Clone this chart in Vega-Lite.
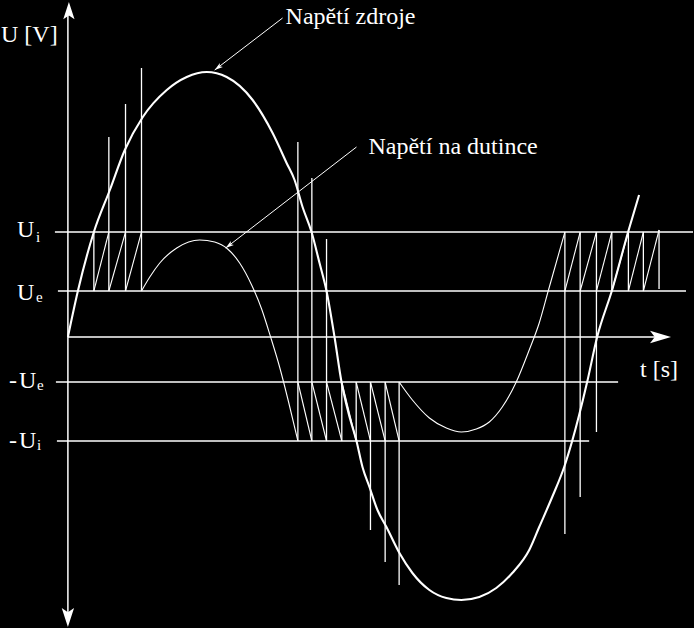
{
  "$schema": "https://vega.github.io/schema/vega-lite/v6.json",
  "width": 694,
  "height": 628,
  "autosize": {"type": "fit", "contains": "padding"},
  "padding": 0,
  "background": "#000000",
  "config": {"view": {"stroke": null}},
  "datasets": {
    "levels": [
      {"t": 55, "t2": 694, "U": 105},
      {"t": 58, "t2": 687, "U": 46},
      {"t": 68, "t2": 662, "U": 0},
      {"t": 56, "t2": 619, "U": -45},
      {"t": 57, "t2": 590, "U": -104}
    ],
    "vaxis": [{"t": 68, "U": 328, "U2": -282}],
    "verticals": [
      {"t": 94, "U": 105, "U2": 46},
      {"t": 109, "U": 200, "U2": 46},
      {"t": 125.7, "U": 233, "U2": 46},
      {"t": 141.7, "U": 269, "U2": 46},
      {"t": 298.3, "U": 195, "U2": -104},
      {"t": 312.3, "U": 159, "U2": -104},
      {"t": 327, "U": 98, "U2": -104},
      {"t": 342.3, "U": -45, "U2": -104},
      {"t": 356.7, "U": -45, "U2": -104},
      {"t": 371, "U": -45, "U2": -193},
      {"t": 385.7, "U": -45, "U2": -225},
      {"t": 399.7, "U": -45, "U2": -248},
      {"t": 565.7, "U": 105, "U2": -197},
      {"t": 581, "U": 105, "U2": -160},
      {"t": 597.3, "U": 105, "U2": -95},
      {"t": 612.7, "U": 105, "U2": 46},
      {"t": 629.3, "U": 105, "U2": 46},
      {"t": 644.3, "U": 105, "U2": 46},
      {"t": 660, "U": 107, "U2": 48}
    ],
    "ramps": [
      {"t": 94, "U": 46, "t2": 109, "U2": 105},
      {"t": 109, "U": 46, "t2": 125.7, "U2": 105},
      {"t": 125.7, "U": 46, "t2": 141.7, "U2": 105},
      {"t": 298.3, "U": -45, "t2": 312.3, "U2": -104},
      {"t": 312.3, "U": -45, "t2": 327, "U2": -104},
      {"t": 327, "U": -45, "t2": 342.3, "U2": -104},
      {"t": 342.3, "U": -45, "t2": 356.7, "U2": -104},
      {"t": 356.7, "U": -45, "t2": 371, "U2": -104},
      {"t": 371, "U": -45, "t2": 385.7, "U2": -104},
      {"t": 385.7, "U": -45, "t2": 399.7, "U2": -104},
      {"t": 565.7, "U": 46, "t2": 581, "U2": 105},
      {"t": 581, "U": 46, "t2": 597.3, "U2": 105},
      {"t": 597.3, "U": 46, "t2": 612.7, "U2": 105},
      {"t": 612.7, "U": 46, "t2": 629.3, "U2": 105},
      {"t": 629.3, "U": 46, "t2": 644.3, "U2": 105},
      {"t": 644.3, "U": 46, "t2": 660, "U2": 107}
    ],
    "source": [
      {"t": 68, "U": 0}, {"t": 78, "U": 46}, {"t": 94, "U": 105}, {"t": 110, "U": 147},
      {"t": 125, "U": 187}, {"t": 143, "U": 220}, {"t": 167, "U": 247}, {"t": 187, "U": 260},
      {"t": 207, "U": 265}, {"t": 227, "U": 260}, {"t": 253, "U": 237}, {"t": 273, "U": 204},
      {"t": 287, "U": 174}, {"t": 295, "U": 157}, {"t": 303, "U": 130}, {"t": 312, "U": 105},
      {"t": 320, "U": 74}, {"t": 327, "U": 46}, {"t": 335, "U": 0}, {"t": 342, "U": -45},
      {"t": 349, "U": -76}, {"t": 357, "U": -104}, {"t": 363, "U": -130}, {"t": 370, "U": -150},
      {"t": 378, "U": -173}, {"t": 387, "U": -190}, {"t": 400, "U": -216}, {"t": 413, "U": -236},
      {"t": 430, "U": -253}, {"t": 447, "U": -261}, {"t": 462, "U": -263}, {"t": 480, "U": -260},
      {"t": 497, "U": -251}, {"t": 513, "U": -236}, {"t": 530, "U": -213}, {"t": 540, "U": -190},
      {"t": 553, "U": -160}, {"t": 565, "U": -130}, {"t": 573, "U": -104}, {"t": 588, "U": -45},
      {"t": 598, "U": 0}, {"t": 613, "U": 47}, {"t": 629, "U": 105}, {"t": 640, "U": 142}
    ],
    "tube": [
      {"piece": "a", "t": 141.7, "U": 46}, {"piece": "a", "t": 150, "U": 60}, {"piece": "a", "t": 160, "U": 74},
      {"piece": "a", "t": 177, "U": 89}, {"piece": "a", "t": 200, "U": 97}, {"piece": "a", "t": 215, "U": 95},
      {"piece": "a", "t": 228, "U": 88}, {"piece": "a", "t": 240, "U": 74}, {"piece": "a", "t": 252, "U": 52},
      {"piece": "a", "t": 262, "U": 28}, {"piece": "a", "t": 271, "U": 0}, {"piece": "a", "t": 280, "U": -30},
      {"piece": "a", "t": 289, "U": -65}, {"piece": "a", "t": 298.3, "U": -104},
      {"piece": "b", "t": 399.7, "U": -45}, {"piece": "b", "t": 413, "U": -63}, {"piece": "b", "t": 430, "U": -81},
      {"piece": "b", "t": 447, "U": -91}, {"piece": "b", "t": 462, "U": -95}, {"piece": "b", "t": 477, "U": -92},
      {"piece": "b", "t": 490, "U": -85}, {"piece": "b", "t": 503, "U": -70}, {"piece": "b", "t": 517, "U": -45},
      {"piece": "b", "t": 530, "U": -13}, {"piece": "b", "t": 540, "U": 14}, {"piece": "b", "t": 549, "U": 46},
      {"piece": "b", "t": 565.7, "U": 105}
    ],
    "pointers": [
      {"t": 283, "U": 319, "t2": 215, "U2": 267},
      {"t": 357, "U": 190, "t2": 226, "U2": 89}
    ],
    "heads": [
      {"dir": "up", "t": 69, "U": 335},
      {"dir": "down", "t": 68, "U": -290},
      {"dir": "right", "t": 672, "U": 0},
      {"dir": "pointer", "t": 215, "U": 267},
      {"dir": "pointer", "t": 226, "U": 89}
    ],
    "labels": [
      {"t": 1, "U": 295, "text": "U [V]"},
      {"t": 286, "U": 313, "text": "Napětí zdroje"},
      {"t": 369, "U": 183, "text": "Napětí na dutince"},
      {"t": 17, "U": 100, "text": "U"},
      {"t": 17, "U": 37, "text": "U"},
      {"t": 9, "U": -51, "text": "-"},
      {"t": 19, "U": -51, "text": "U"},
      {"t": 9, "U": -111, "text": "-"},
      {"t": 19, "U": -111, "text": "U"},
      {"t": 641, "U": -40, "text": "t [s]"}
    ],
    "subs": [
      {"t": 36, "U": 95, "text": "i"},
      {"t": 36, "U": 35, "text": "e"},
      {"t": 37, "U": -53, "text": "e"},
      {"t": 37, "U": -113, "text": "i"}
    ]
  },
  "encoding": {
    "x": {"field": "t", "type": "quantitative", "scale": {"domain": [0, 694], "nice": false, "zero": false}, "axis": null},
    "y": {"field": "U", "type": "quantitative", "scale": {"domain": [-291, 337], "nice": false, "zero": false}, "axis": null}
  },
  "layer": [
    {"data": {"name": "levels"}, "mark": {"type": "rule", "color": "#ffffff", "strokeWidth": 1.5},
     "encoding": {"x2": {"field": "t2"}}},
    {"data": {"name": "vaxis"}, "mark": {"type": "rule", "color": "#ffffff", "strokeWidth": 1.5},
     "encoding": {"y2": {"field": "U2"}}},
    {"data": {"name": "verticals"}, "mark": {"type": "rule", "color": "#ffffff", "strokeWidth": 1.3},
     "encoding": {"y2": {"field": "U2"}}},
    {"data": {"name": "ramps"}, "mark": {"type": "rule", "color": "#ffffff", "strokeWidth": 1.1},
     "encoding": {"x2": {"field": "t2"}, "y2": {"field": "U2"}}},
    {"data": {"name": "source"}, "mark": {"type": "line", "color": "#ffffff", "strokeWidth": 2.1, "interpolate": "monotone"},
     "encoding": {"order": {"field": "t", "type": "quantitative"}}},
    {"data": {"name": "tube"}, "mark": {"type": "line", "color": "#ffffff", "strokeWidth": 1.1, "interpolate": "monotone"},
     "encoding": {"detail": {"field": "piece", "type": "nominal"}, "order": {"field": "t", "type": "quantitative"}}},
    {"data": {"name": "pointers"}, "mark": {"type": "rule", "color": "#ffffff", "strokeWidth": 1},
     "encoding": {"x2": {"field": "t2"}, "y2": {"field": "U2"}}},
    {"data": {"name": "heads"}, "transform": [{"filter": "datum.dir === 'up'"}],
     "mark": {"type": "point", "filled": true, "color": "#ffffff", "opacity": 1, "size": 300, "angle": 0, "shape": "M0,0L0.65,2L0,1.55L-0.65,2Z"}},
    {"data": {"name": "heads"}, "transform": [{"filter": "datum.dir === 'down'"}],
     "mark": {"type": "point", "filled": true, "color": "#ffffff", "opacity": 1, "size": 361, "angle": 180, "shape": "M0,0L0.65,2L0,1.55L-0.65,2Z"}},
    {"data": {"name": "heads"}, "transform": [{"filter": "datum.dir === 'right'"}],
     "mark": {"type": "point", "filled": true, "color": "#ffffff", "opacity": 1, "size": 441, "angle": 90, "shape": "M0,0L0.6,2L0,1.55L-0.6,2Z"}},
    {"data": {"name": "heads"}, "transform": [{"filter": "datum.dir === 'pointer'"}],
     "mark": {"type": "point", "filled": true, "color": "#ffffff", "opacity": 1, "size": 70, "angle": 233, "shape": "M0,0L0.6,2L0,1.5L-0.6,2Z"}},
    {"data": {"name": "labels"}, "mark": {"type": "text", "color": "#ffffff", "font": "Times New Roman", "fontSize": 24, "align": "left", "baseline": "alphabetic"},
     "encoding": {"text": {"field": "text"}}},
    {"data": {"name": "subs"}, "mark": {"type": "text", "color": "#ffffff", "font": "Times New Roman", "fontSize": 15, "align": "left", "baseline": "alphabetic"},
     "encoding": {"text": {"field": "text"}}}
  ]
}
